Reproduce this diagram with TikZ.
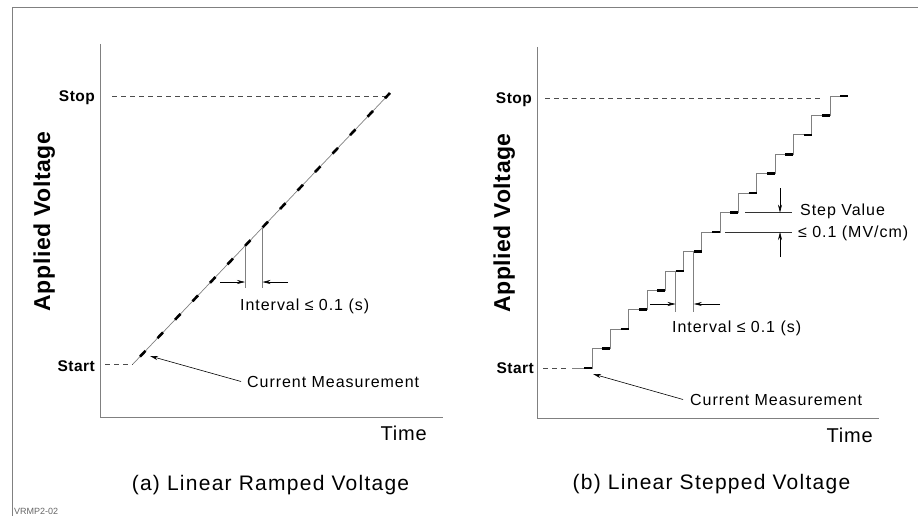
\documentclass[tikz,border=0pt]{standalone}
\usepackage{fontspec}
\newfontfamily\plotfont{Liberation Sans}
\usetikzlibrary{arrows.meta,calc}

\begin{document}
\begin{tikzpicture}[x=1pt,y=-1pt,
    frame/.style={draw=gray,line width=0.9pt},
    axis/.style={draw=gray,line width=1pt},
    level/.style={draw=black!70,line width=0.6pt,dash pattern=on 4.5pt off 4.5pt},
    trace/.style={draw=gray,line width=0.7pt},
    tick/.style={draw=black,line width=2.6pt},
    guide/.style={draw=gray,line width=0.7pt},
    arr/.style={draw=black,line width=0.6pt,-{Stealth[length=8pt,width=4pt]}},
    lab/.style={font=\plotfont\addfontfeature{LetterSpace=6}\fontsize{16}{19}\selectfont,inner sep=0pt},
    endlab/.style={font=\plotfont\bfseries\addfontfeature{LetterSpace=3}\fontsize{15.5}{18}\selectfont,inner sep=0pt,anchor=base east},
    axlab/.style={font=\plotfont\bfseries\addfontfeature{LetterSpace=2.5}\fontsize{23}{27}\selectfont,inner sep=0pt,rotate=90,anchor=base},
    timelab/.style={font=\plotfont\addfontfeature{LetterSpace=4}\fontsize{20}{23}\selectfont,inner sep=0pt,anchor=base east},
    title/.style={font=\plotfont\addfontfeature{LetterSpace=6}\fontsize{21}{25}\selectfont,inner sep=0pt,anchor=base}]
    \useasboundingbox (0,0) rectangle (918,516);

    % frame
    \draw[frame] (12,516) -- (12,7) -- (918,7);
    \node[font=\plotfont\fontsize{9}{11}\selectfont,text=gray!80!black,inner sep=0pt,anchor=base west] (tag) at (14,514) {VRMP2-02};

    % (a) ramped voltage
    \coordinate (A) at (100,44);
    \coordinate (O) at (100,417);
    \coordinate (T) at (443,417);
    \draw[axis] (A) -- (O) -- (T);

    \coordinate (R0) at (133,364);
    \coordinate (R1) at (390,93);
    \coordinate (P0) at (112,96);
    \coordinate (P1) at (388,96);
    \coordinate (Q0) at (105,364);
    \draw[level] (P0) -- (P1);
    \draw[level] (Q0) -- (R0);
    \draw[trace] (R0) -- (R1);
    \foreach \k in {0,...,14}
        \draw[tick] ($(R0)!{(7+17.5*\k)/257}!(R1)$) -- ($(R0)!{min(1,(12.5+17.5*\k)/257)}!(R1)$);

    \coordinate (I1) at (245,246);
    \coordinate (I2) at (262.5,227.4);
    \coordinate (J1) at (245,288);
    \coordinate (J2) at (262.5,288);
    \coordinate (K1) at (220,282);
    \coordinate (K2) at (288,282);
    \draw[guide] (I1) -- (J1);
    \draw[guide] (I2) -- (J2);
    \draw[arr] (K1) -- (245,282);
    \draw[arr] (K2) -- (262.5,282);

    \node[endlab] (stopa) at (95,102) {Stop};
    \node[endlab] (starta) at (95,371) {Start};
    \node[axlab] (va) at (50,221.5) {Applied Voltage};
    \node[timelab] (ta) at (427,440) {Time};
    \node[lab,anchor=base west] (inta) at (240,310) {Interval ≤ 0.1 (s)};
    \node[lab,anchor=base west] (cma) at (247,387) {Current Measurement};
    \coordinate (M1) at (150,356);
    \draw[arr] ([xshift=-6pt]cma.west) -- (M1);
    \node[title] (capa) at (270.5,490) {(a) Linear Ramped Voltage};

    % (b) stepped voltage
    \coordinate (B) at (537,47);
    \coordinate (U) at (537,418);
    \coordinate (W) at (879,418);
    \draw[axis] (B) -- (U) -- (W);

    \coordinate (S0) at (572,368);
    \coordinate (S1) at (592,368);
    \coordinate (L0) at (545,98);
    \coordinate (L1) at (823,98);
    \coordinate (N0) at (543,368);
    \coordinate (N1) at (566,368);
    \draw[level] (L0) -- (L1);
    \draw[level] (N0) -- (N1);
    \draw[trace] (S0) -- (S1) \foreach \k in {1,...,14} { |- ++(18.3,-19.43) };
    \foreach \k in {0,...,14}
        \draw[tick] ({592+\k*18.3-8},{368-\k*19.43}) -- ++(8,0);

    \coordinate (G1) at (675.5,270.9);
    \coordinate (G2) at (693.8,251.4);
    \coordinate (H1) at (675.5,312);
    \coordinate (H2) at (693.8,312);
    \coordinate (E1) at (650,304);
    \coordinate (E2) at (720,304);
    \draw[guide] (G1) -- (H1);
    \draw[guide] (G2) -- (H2);
    \draw[arr] (E1) -- (675.5,304);
    \draw[arr] (E2) -- (693.8,304);

    \coordinate (D1) at (745,212.6);
    \coordinate (D2) at (792,212.6);
    \coordinate (D3) at (725,232);
    \coordinate (D4) at (792,232);
    \coordinate (V1) at (780,188);
    \coordinate (V2) at (780,257);
    \draw[guide,draw=black!80] (D1) -- (D2);
    \draw[guide,draw=black!80] (D3) -- (D4);
    \draw[arr] (V1) -- (780,212.6);
    \draw[arr] (V2) -- (780,232);

    \node[endlab] (stopb) at (532,104) {Stop};
    \node[endlab] (startb) at (534,373) {Start};
    \node[axlab] (vb) at (510,223) {Applied Voltage};
    \node[timelab] (tb) at (873,442) {Time};
    \node[lab,anchor=base west] (intb) at (672,332) {Interval ≤ 0.1 (s)};
    \node[lab,anchor=base west] (sv) at (800,215) {Step Value};
    \node[lab,anchor=base west] (svmax) at (798,237) {≤ 0.1 (MV/cm)};
    \node[lab,anchor=base west] (cmb) at (690,405) {Current Measurement};
    \coordinate (M2) at (593,374);
    \draw[arr] ([xshift=-7pt]cmb.west) -- (M2);
    \node[title] (capb) at (711.5,489) {(b) Linear Stepped Voltage};
\end{tikzpicture}
\end{document}
